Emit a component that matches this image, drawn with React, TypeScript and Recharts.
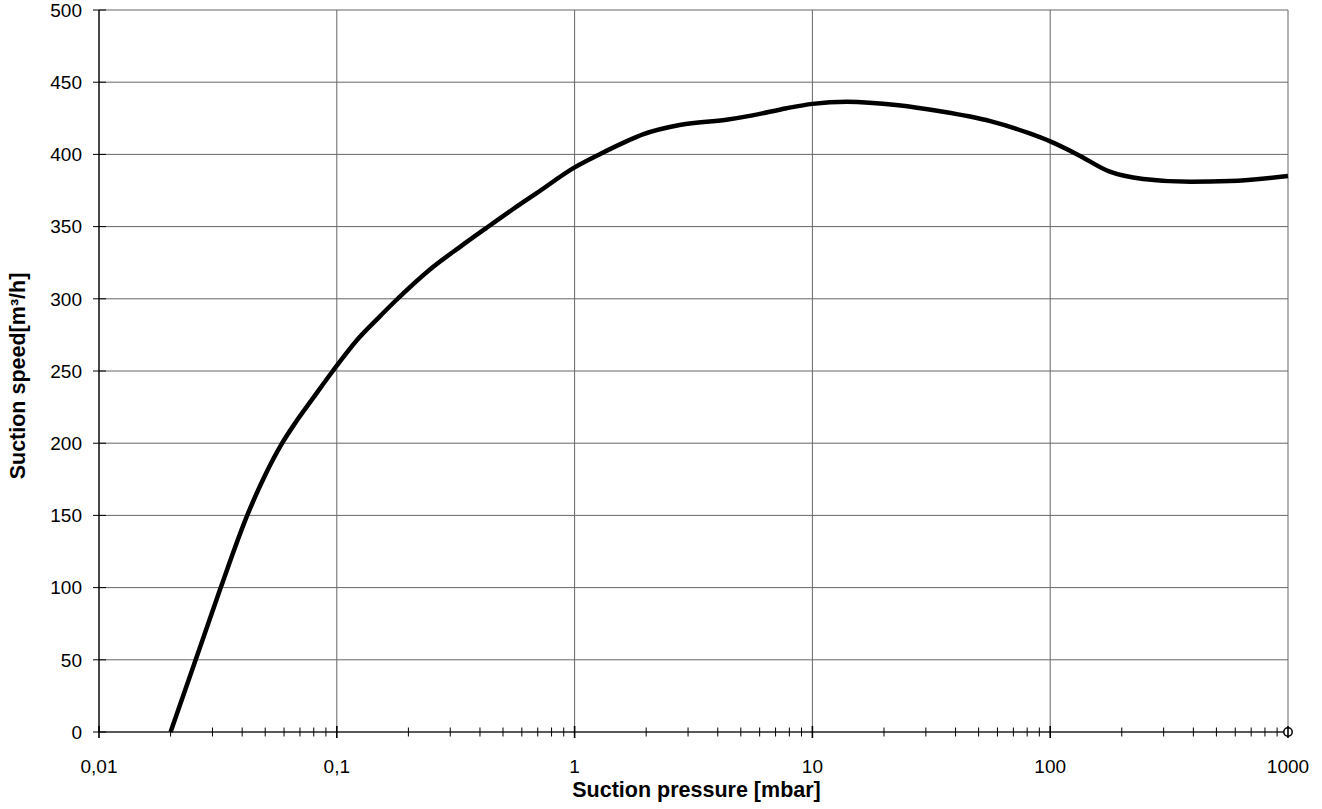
import React from 'react';
import { ComposedChart, Line, Scatter, XAxis, YAxis, CartesianGrid, Label } from 'recharts';

// suction pressure [mbar] and suction speed [m³/h]
const pressure = [
  0.02, 0.0255, 0.0325, 0.042, 0.05, 0.0589, 0.0675, 0.0793, 0.0962, 0.124, 0.15, 0.1775, 0.245,
  0.33, 0.425, 0.55, 0.69, 1, 1.27, 1.6, 1.95, 2.8, 4.35, 5.6, 7.8, 10, 14, 23, 34, 56, 82,
  100, 130, 178, 246, 390, 570, 1000,
];
const speed = [
  0, 50, 100, 150, 178, 200, 215, 231, 250, 273, 287, 299, 320,
  336, 349, 362, 373, 391, 400, 408, 414, 420.5, 424, 427, 432, 435, 436.5, 434, 430, 423, 414.5,
  409, 400, 388, 383, 381, 381.5, 385,
];

const endPressure = [1000];
const endSpeed = [0];

const decadeTicks = [0.01, 0.1, 1, 10, 100, 1000];
const minorSteps = [2, 3, 4, 5, 6, 7, 8, 9];
const speedTicks = [0, 50, 100, 150, 200, 250, 300, 350, 400, 450, 500];

const curve = pressure.map((p, i) => ({ pressure: p, speed: speed[i] }));
const endMarker = endPressure.map((p, i) => ({ pressure: p, speed: endSpeed[i] }));
const minorTicks = decadeTicks.slice(0, -1).flatMap(d => minorSteps.map(m => +(d * m).toPrecision(3)));
const allXTicks = [...decadeTicks, ...minorTicks].sort((a, b) => a - b);

const FONT = '"Liberation Sans", Arial, sans-serif';

const fmt = (v: number) => String(v).replace('.', ',');

const XTick = (props: any) => {
  const { x, y, payload } = props;
  if (!decadeTicks.includes(payload.value)) {
    return <line x1={x} x2={x} y1={y - 4.5} y2={y + 4.5} stroke="#000" strokeWidth={1} />;
  }
  return (
    <g>
      <line x1={x} x2={x} y1={y - 6} y2={y + 6} stroke="#000" strokeWidth={1.6} />
      <text x={x} y={y + 41} textAnchor="middle" fontFamily={FONT} fontSize={19} fill="#000">
        {fmt(payload.value)}
      </text>
    </g>
  );
};

const YTick = (props: any) => {
  const { x, y, payload } = props;
  return (
    <g>
      <line x1={x - 6} x2={x + 7} y1={y} y2={y} stroke="#000" strokeWidth={1} />
      <text x={x - 17} y={y + 6.8} textAnchor="end" fontFamily={FONT} fontSize={19} fill="#000">
        {payload.value}
      </text>
    </g>
  );
};

const XTitle = (props: any) => {
  const vb = props.viewBox;
  return (
    <text x={vb.x + vb.width / 2 + 3} y={vb.y + 65} textAnchor="middle" fontFamily={FONT}
      fontSize={21.5} fontWeight="bold" fill="#000">
      Suction pressure [mbar]
    </text>
  );
};

const YTitle = (props: any) => {
  const vb = props.viewBox;
  const cy = vb.y + vb.height / 2 + 5;
  return (
    <text transform={`translate(25, ${cy}) rotate(-90)`} textAnchor="middle" fontFamily={FONT}
      fontSize={21.5} fontWeight="bold" fill="#000">
      Suction speed[m³/h]
    </text>
  );
};

const EndDot = (props: any) => (
  <circle cx={props.cx} cy={props.cy} r={4.2} fill="#fff" stroke="#000" strokeWidth={1.5} />
);

export default function App() {
  return (
    <div style={{ position: 'absolute', left: 0, top: 0, background: '#fff' }}>
      <ComposedChart width={1322} height={809} margin={{ top: 10, right: 34, bottom: 0, left: 0 }}>
        <CartesianGrid stroke="#666" strokeWidth={1} verticalValues={decadeTicks} />
        <XAxis
          dataKey="pressure"
          type="number"
          scale="log"
          domain={[0.01, 1000]}
          ticks={allXTicks}
          interval={0}
          height={77}
          axisLine={{ stroke: '#000', strokeWidth: 1.2 }}
          tickLine={false}
          tickSize={0}
          tickMargin={0}
          tick={<XTick />}
        >
          <Label content={<XTitle />} />
        </XAxis>
        <YAxis
          type="number"
          domain={[0, 500]}
          ticks={speedTicks}
          interval={0}
          width={99}
          axisLine={{ stroke: '#000', strokeWidth: 1.2 }}
          tickLine={false}
          tickSize={0}
          tickMargin={0}
          tick={<YTick />}
        >
          <Label content={<YTitle />} />
        </YAxis>
        <Line
          data={curve}
          dataKey="speed"
          type="monotone"
          stroke="#000"
          strokeWidth={4.5}
          dot={false}
          activeDot={false}
          isAnimationActive={false}
        />
        <Scatter data={endMarker} dataKey="speed" shape={<EndDot />} isAnimationActive={false} />
      </ComposedChart>
    </div>
  );
}
